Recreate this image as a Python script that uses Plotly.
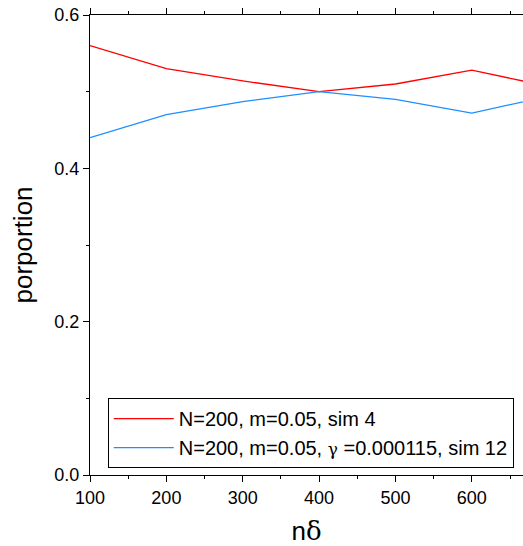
import plotly.graph_objects as go

x_vals = [100, 200, 300, 400, 500, 600, 700]
red_vals = [0.560, 0.530, 0.514, 0.500, 0.510, 0.528, 0.507]
blue_vals = [0.440, 0.470, 0.487, 0.500, 0.490, 0.472, 0.494]
red_name = "N=200, m=0.05, sim 4"
blue_name = "N=200, m=0.05, <span style='font-family:\"DejaVu Serif\",serif;font-size:17px'>γ</span> =0.000115, sim 12"

FONT = "Liberation Sans, Arial, sans-serif"

fig = go.Figure()
fig.add_trace(go.Scatter(x=x_vals, y=red_vals, mode="lines", name=red_name,
                         line=dict(color="#FF0000", width=1.3)))
fig.add_trace(go.Scatter(x=x_vals, y=blue_vals, mode="lines", name=blue_name,
                         line=dict(color="#1E8FFF", width=1.3)))

fig.update_layout(
    width=523, height=546,
    margin=dict(l=90, r=0, t=15, b=71),
    paper_bgcolor="white", plot_bgcolor="white",
    font=dict(family=FONT, color="black"),
    showlegend=True,
    legend=dict(x=0.041, y=0.167, xanchor="left", yanchor="top",
                bordercolor="black", borderwidth=1, bgcolor="white",
                font=dict(size=20, family=FONT), tracegroupgap=0,
                itemwidth=60),
    xaxis=dict(range=[100, 667], tickvals=[100, 200, 300, 400, 500, 600],
               ticks="outside", ticklen=6, tickwidth=1.2, tickcolor="black",
               showline=True, linecolor="black", linewidth=1.3,
               mirror="allticks", showgrid=False, zeroline=False,
               tickfont=dict(size=18),
               minor=dict(ticks="outside", ticklen=3, dtick=50, tick0=100,
                          tickcolor="black", showgrid=False),
               title=dict(text="n<span style='font-family:\"DejaVu Serif\",serif'>δ</span>",
                          font=dict(size=26), standoff=18)),
    yaxis=dict(range=[0, 0.6], tickvals=[0.0, 0.2, 0.4, 0.6],
               ticktext=["0.0", "0.2", "0.4", "0.6"],
               ticks="outside", ticklen=6, tickwidth=1.2, tickcolor="black",
               showline=True, linecolor="black", linewidth=1.3,
               mirror=False, showgrid=False, zeroline=False,
               tickfont=dict(size=18),
               minor=dict(ticks="outside", ticklen=3, dtick=0.1, tick0=0,
                          tickcolor="black", showgrid=False),
               title=dict(text="porportion", font=dict(size=26), standoff=14)),
)

fig.write_html("out.html")
